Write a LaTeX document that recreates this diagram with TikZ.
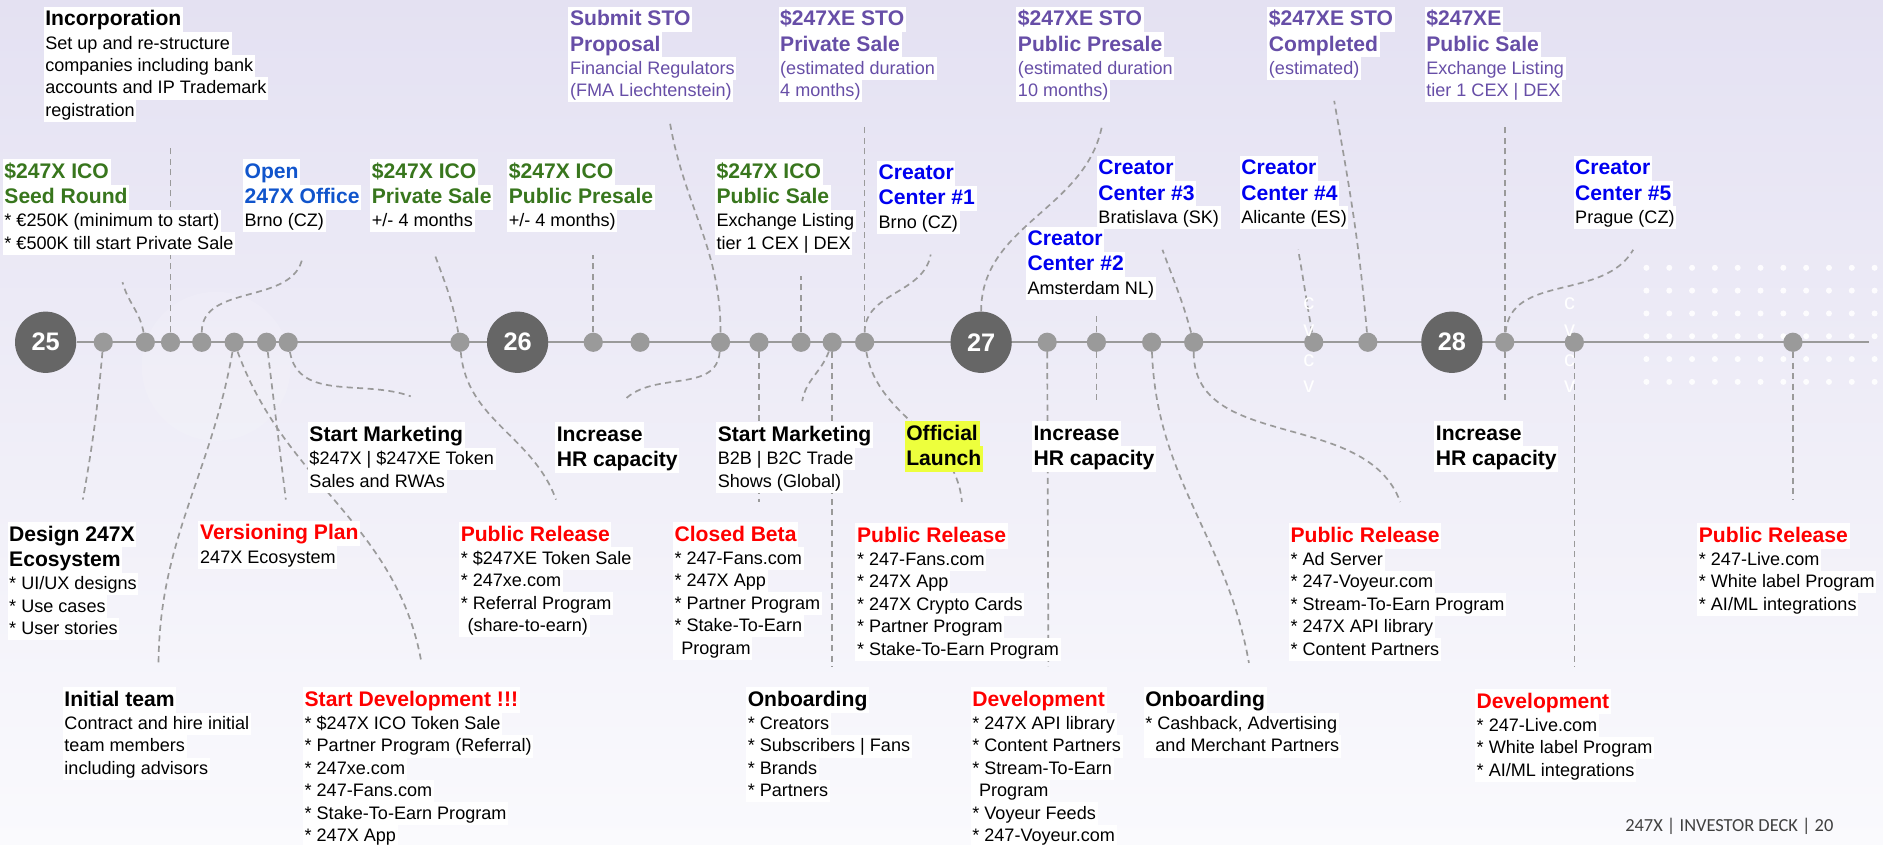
\documentclass[tikz,border=0pt]{standalone}
\usepackage{fontspec}
\setmainfont{Liberation Sans}
\newfontfamily\deckfont{Carlito}

\definecolor{icogreen}{HTML}{38761D}
\definecolor{officeblue}{HTML}{1155CC}
\definecolor{centerblue}{HTML}{0000F0}
\definecolor{stopurple}{HTML}{674EA7}
\definecolor{relred}{HTML}{FF0000}
\definecolor{linkgray}{HTML}{9A9A9A}
\definecolor{yeargray}{HTML}{666666}
\definecolor{launchyellow}{HTML}{EDFF3D}
\definecolor{bgtop}{HTML}{E4E1F2}
\definecolor{bgmid}{HTML}{E9E7F5}
\definecolor{bgbot}{HTML}{FAFAFD}

\setlength{\fboxsep}{0pt}
\newcommand{\mstack}[1]{\vbox{\offinterlineskip#1}}
\newcommand{\mhead}[2][black]{\hbox{\colorbox{white}{\color{#1}\fontsize{12.5}{15}\bfseries\selectfont\rule[-3.7pt]{0pt}{15pt}\hspace{1pt}#2\hspace{1pt}}}}
\newcommand{\mline}[2][black]{\hbox{\colorbox{white}{\color{#1}\fontsize{10.7}{13}\selectfont\rule[-3.3pt]{0pt}{13.3pt}\hspace{1pt}#2\hspace{1pt}}}}
\newcommand{\mlaunch}[1]{\hbox{\colorbox{launchyellow}{\fontsize{12.5}{15}\bfseries\selectfont\rule[-3.7pt]{0pt}{15pt}\hspace{1pt}#1\hspace{1pt}}}}

\pgfdeclarelayer{bg}
\pgfdeclarelayer{links}
\pgfsetlayers{bg,links,main}

\tikzset{
  blk/.style={anchor=north west, inner sep=0pt},
  yearcirc/.style={circle, fill=yeargray, minimum size=1.275cm, inner sep=0pt, text=white, font=\fontsize{15}{15}\bfseries\selectfont},
  mdot/.style={circle, fill=linkgray, minimum size=0.4cm, inner sep=0pt},
  link/.style={draw=linkgray, line width=1pt, dash pattern=on 3.6pt off 2.6pt},
  axisline/.style={draw=linkgray, line width=1.3pt},
  ghost/.style={text=white, font=\fontsize{13}{13}\selectfont, inner sep=0pt}
}

\begin{document}
\begin{tikzpicture}[x=0.025cm, y=0.025cm]
\useasboundingbox (0,0) rectangle (1568,-703);

\begin{pgfonlayer}{bg}
\shade[top color=bgtop, middle color=bgmid, bottom color=bgbot] (0,0) rectangle (1568,-703);
\fill[white, opacity=.12] (180,-305) circle[radius=62];
\foreach \i in {0,...,10}
	\foreach \j in {0,...,5}
		\fill[white, opacity=.9] (1371+19*\i, -223-19*\j) circle[radius=2.5];
\end{pgfonlayer}

% timeline
\foreach \yr/\x in {25/38,26/431,27/817,28/1209}
	\node[yearcirc] (y\yr) at (\x,-285) {\yr};
\foreach \x [count=\i] in {86,121,142,168,195,222,240,383,494,533,600,632,667,693,720,872,913,959,994,1094,1139,1253,1311,1493}
	\node[mdot] (m\i) at (\x,-285) {};
\foreach \y [count=\i] in {253,275,300,322}
	\node[ghost] (cva\i) at (1090,-\y) {\ifodd\i c\else v\fi};
\foreach \y [count=\i] in {253,275,300,322}
	\node[ghost] (cvb\i) at (1307,-\y) {\ifodd\i c\else v\fi};

% upper blocks
\node[blk] (incorp) at (36,-5.4) {\mstack{\mhead{Incorporation}\mline{Set up and re-structure}\mline{companies including bank}\mline{accounts and IP Trademark}\mline{registration}}};
\node[blk] (sto1) at (473,-5.4) {\mstack{\mhead[stopurple]{Submit STO}\mhead[stopurple]{Proposal}\mline[stopurple]{Financial Regulators}\mline[stopurple]{(FMA Liechtenstein)}}};
\node[blk] (sto2) at (648,-5.4) {\mstack{\mhead[stopurple]{\$247XE STO}\mhead[stopurple]{Private Sale}\mline[stopurple]{(estimated duration}\mline[stopurple]{4 months)}}};
\node[blk] (sto3) at (846,-5.4) {\mstack{\mhead[stopurple]{\$247XE STO}\mhead[stopurple]{Public Presale}\mline[stopurple]{(estimated duration}\mline[stopurple]{10 months)}}};
\node[blk] (sto4) at (1055,-5.4) {\mstack{\mhead[stopurple]{\$247XE STO}\mhead[stopurple]{Completed}\mline[stopurple]{(estimated)}}};
\node[blk] (sto5) at (1186,-5.4) {\mstack{\mhead[stopurple]{\$247XE}\mhead[stopurple]{Public Sale}\mline[stopurple]{Exchange Listing}\mline[stopurple]{tier 1 CEX | DEX}}};

\node[blk] (seed) at (2,-132.4) {\mstack{\mhead[icogreen]{\$247X ICO}\mhead[icogreen]{Seed Round}\mline{* €250K (minimum to start)}\mline{* €500K till start Private Sale}}};
\node[blk] (office) at (202,-132.4) {\mstack{\mhead[officeblue]{Open}\mhead[officeblue]{247X Office}\mline{Brno (CZ)}}};
\node[blk] (icopriv) at (308,-132.4) {\mstack{\mhead[icogreen]{\$247X ICO}\mhead[icogreen]{Private Sale}\mline{+/- 4 months}}};
\node[blk] (icopre) at (422,-132.4) {\mstack{\mhead[icogreen]{\$247X ICO}\mhead[icogreen]{Public Presale}\mline{+/- 4 months)}}};
\node[blk] (icopub) at (595,-132.4) {\mstack{\mhead[icogreen]{\$247X ICO}\mhead[icogreen]{Public Sale}\mline{Exchange Listing}\mline{tier 1 CEX | DEX}}};
\node[blk] (cc1) at (730,-133.4) {\mstack{\mhead[centerblue]{Creator}\mhead[centerblue]{Center \#1}\mline{Brno (CZ)}}};
\node[blk] (cc2) at (854,-188.4) {\mstack{\mhead[centerblue]{Creator}\mhead[centerblue]{Center \#2}\mline{Amsterdam NL)}}};
\node[blk] (cc3) at (913,-129.4) {\mstack{\mhead[centerblue]{Creator}\mhead[centerblue]{Center \#3}\mline{Bratislava (SK)}}};
\node[blk] (cc4) at (1032,-129.4) {\mstack{\mhead[centerblue]{Creator}\mhead[centerblue]{Center \#4}\mline{Alicante (ES)}}};
\node[blk] (cc5) at (1310,-129.4) {\mstack{\mhead[centerblue]{Creator}\mhead[centerblue]{Center \#5}\mline{Prague (CZ)}}};

% lower blocks
\node[blk] (mkt1) at (256,-351.4) {\mstack{\mhead{Start Marketing}\mline{\$247X | \$247XE Token}\mline{Sales and RWAs}}};
\node[blk] (hr1) at (462,-351.4) {\mstack{\mhead{Increase}\mhead{HR capacity}}};
\node[blk] (mkt2) at (596,-351.4) {\mstack{\mhead{Start Marketing}\mline{B2B | B2C Trade}\mline{Shows (Global)}}};
\node[blk] (launch) at (753,-350.4) {\mstack{\mlaunch{Official}\mlaunch{Launch}}};
\node[blk] (hr2) at (859,-350.4) {\mstack{\mhead{Increase}\mhead{HR capacity}}};
\node[blk] (hr3) at (1194,-350.4) {\mstack{\mhead{Increase}\mhead{HR capacity}}};

\node[blk] (design) at (6,-434.4) {\mstack{\mhead{Design 247X}\mhead{Ecosystem}\mline{* UI/UX designs}\mline{* Use cases}\mline{* User stories}}};
\node[blk] (vers) at (165,-433.4) {\mstack{\mhead[relred]{Versioning Plan}\mline{247X Ecosystem}}};
\node[blk] (rel1) at (382,-434.4) {\mstack{\mhead[relred]{Public Release}\mline{* \$247XE Token Sale}\mline{* 247xe.com}\mline{* Referral Program}\mline{\hspace{4pt}(share-to-earn)}}};
\node[blk] (beta) at (560,-434.4) {\mstack{\mhead[relred]{Closed Beta}\mline{* 247-Fans.com}\mline{* 247X App}\mline{* Partner Program}\mline{* Stake-To-Earn}\mline{\hspace{4pt}Program}}};
\node[blk] (rel2) at (712,-435.4) {\mstack{\mhead[relred]{Public Release}\mline{* 247-Fans.com}\mline{* 247X App}\mline{* 247X Crypto Cards}\mline{* Partner Program}\mline{* Stake-To-Earn Program}}};
\node[blk] (rel3) at (1073,-435.4) {\mstack{\mhead[relred]{Public Release}\mline{* Ad Server}\mline{* 247-Voyeur.com}\mline{* Stream-To-Earn Program}\mline{* 247X API library}\mline{* Content Partners}}};
\node[blk] (rel4) at (1413,-435.4) {\mstack{\mhead[relred]{Public Release}\mline{* 247-Live.com}\mline{* White label Program}\mline{* AI/ML integrations}}};

\node[blk] (team) at (52,-572) {\mstack{\mhead{Initial team}\mline{Contract and hire initial}\mline{team members}\mline{including advisors}}};
\node[blk] (dev1) at (252,-572) {\mstack{\mhead[relred]{Start Development !!!}\mline{* \$247X ICO Token Sale}\mline{* Partner Program (Referral)}\mline{* 247xe.com}\mline{* 247-Fans.com}\mline{* Stake-To-Earn Program}\mline{* 247X App}}};
\node[blk] (onb1) at (621,-572) {\mstack{\mhead{Onboarding}\mline{* Creators}\mline{* Subscribers | Fans}\mline{* Brands}\mline{* Partners}}};
\node[blk] (dev2) at (808,-572) {\mstack{\mhead[relred]{Development}\mline{* 247X API library}\mline{* Content Partners}\mline{* Stream-To-Earn}\mline{\hspace{4pt}Program}\mline{* Voyeur Feeds}\mline{* 247-Voyeur.com}}};
\node[blk] (onb2) at (952,-572) {\mstack{\mhead{Onboarding}\mline{* Cashback, Advertising}\mline{\hspace{6pt}and Merchant Partners}}};
\node[blk] (dev3) at (1228,-573.4) {\mstack{\mhead[relred]{Development}\mline{* 247-Live.com}\mline{* White label Program}\mline{* AI/ML integrations}}};

\node[anchor=east, inner sep=0pt, text=black!75] (deck) at (1527,-688) {\deckfont\fontsize{10.9}{12}\selectfont 247X | INVESTOR DECK | 20};

% free ends of the dashed links
\foreach \n/\p in {seed/{102,-235}, incorp/{142,-120}, office/{252,-214}, icopriv/{362,-212}, icopre/{494,-212}, sto1/{558,-103}, icopub/{667,-230}, sto2/{720,-103}, cc1/{775,-212}, sto3/{918,-103}, cc2/{913,-263}, cc3/{968,-208}, cc4/{1081,-208}, sto4/{1111,-84}, sto5/{1253,-103}, cc5/{1360,-208}, design/{69,-416}, team/{132,-555}, dev1/{351,-552}, vers/{238,-416}, mkt1/{342,-330}, rel1/{463,-416}, hr1/{520,-333}, beta/{632,-418}, mkt2/{668,-334}, onb1/{693,-555}, rel2/{801,-418}, dev2/{873,-555}, hr2/{913,-333}, onb2/{1040,-552}, rel3/{1166,-418}, hr3/{1253,-333}, dev3/{1311,-555}, rel4/{1493,-416}, axis/{1556,-285}}
	\coordinate (e-\n) at (\p);

\begin{pgfonlayer}{links}
\foreach \a/\b in {m3/incorp, m9/icopre, m13/icopub, m15/sto2, m17/cc2, m22/sto5, m6/vers, m12/beta, m14/onb1, m16/dev2, m17/hr2, m22/hr3, m23/dev3, m24/rel4}
	\draw[link] (\a) -- (e-\b);
\draw[link] (m2) to[out=100,in=-75] (e-seed);
\draw[link] (m4) to[out=90,in=-100] (e-office);
\draw[link] (m8) to[out=100,in=-70] (e-icopriv);
\draw[link] (m11) to[out=90,in=-80] (e-sto1);
\draw[link] (m15) to[out=90,in=-100] (e-cc1);
\draw[link] (y27) to[out=90,in=-100] (e-sto3);
\draw[link] (m19) to[out=105,in=-70] (e-cc3);
\draw[link] (m20) to[out=100,in=-80] (e-cc4);
\draw[link] (m21) to[out=95,in=-80] (e-sto4);
\draw[link] (m22) to[out=85,in=-120] (e-cc5);
\draw[link] (m1) to[out=-95,in=80] (e-design);
\draw[link] (m5) to[out=-100,in=90] (e-team);
\draw[link] (m5) to[out=-70,in=100] (e-dev1);
\draw[link] (m7) to[out=-80,in=160] (e-mkt1);
\draw[link] (m8) to[out=-85,in=110] (e-rel1);
\draw[link] (m11) to[out=-95,in=45] (e-hr1);
\draw[link] (m14) to[out=-110,in=80] (e-mkt2);
\draw[link] (m15) to[out=-80,in=95] (e-rel2);
\draw[link] (m18) to[out=-88,in=100] (e-onb2);
\draw[link] (m19) to[out=-90,in=110] (e-rel3);
\draw[axisline] (y25) -- (e-axis);
\end{pgfonlayer}
\end{tikzpicture}
\end{document}
